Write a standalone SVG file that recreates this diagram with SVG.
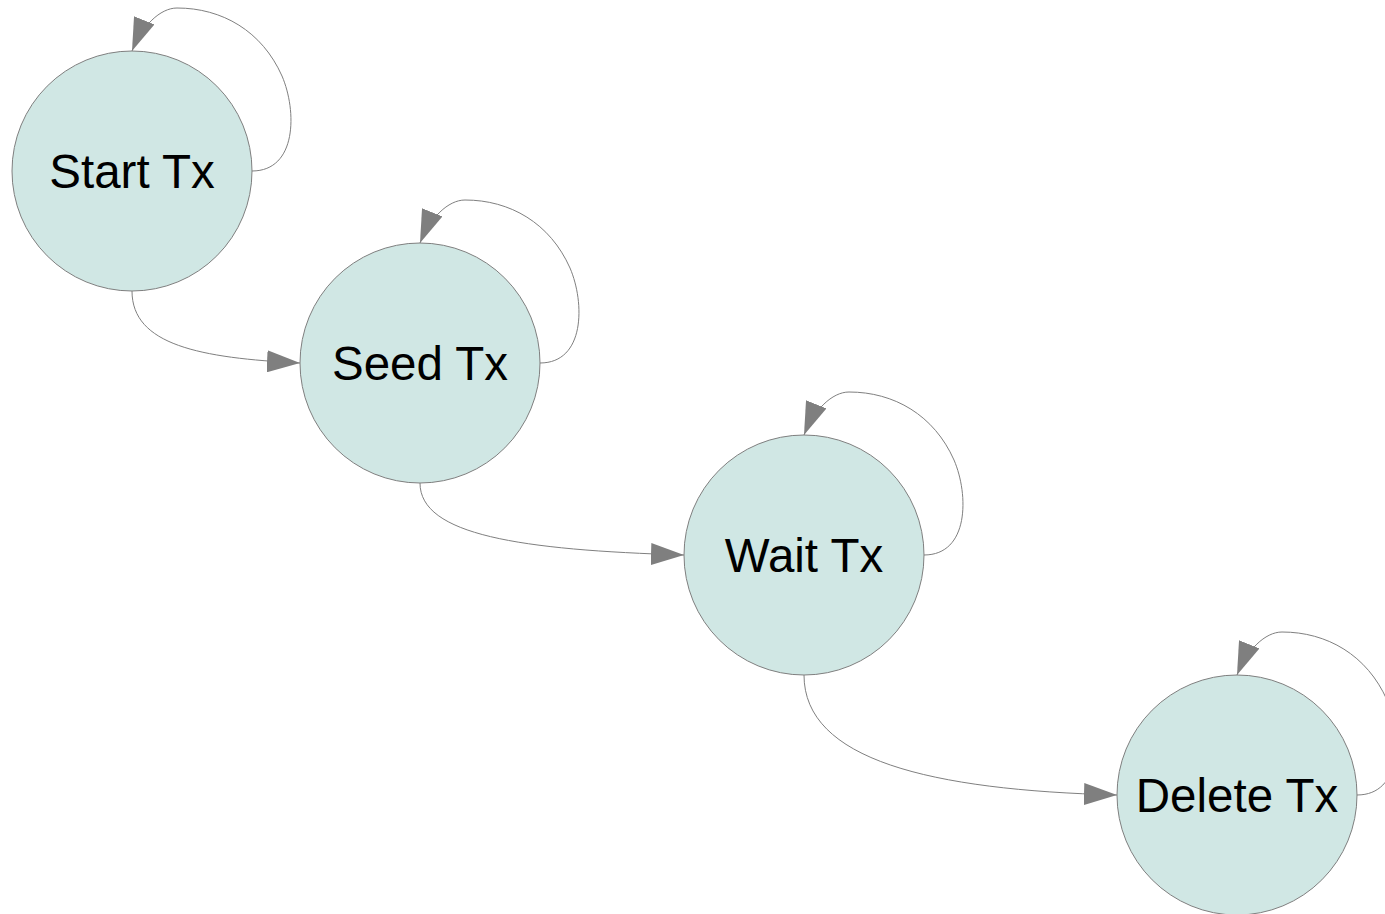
<svg xmlns="http://www.w3.org/2000/svg" width="1385" height="914" viewBox="0 0 1385 914">
  <style>
    .state { fill: #d0e7e4; stroke: #7f7f7f; stroke-width: 1; }
    .label { font-family: "Liberation Sans", Arial, sans-serif; font-size: 47.5px; fill: #000; text-anchor: middle; }
    .edge { fill: none; stroke: #7f7f7f; stroke-width: 1; marker-end: url(#arrow); }
  </style>
  <defs>
    <marker id="arrow" viewBox="0 0 33 22" refX="33" refY="11" markerWidth="33" markerHeight="22" markerUnits="userSpaceOnUse" orient="auto">
      <path d="M0,0 L33,11 L0,22 z" fill="#7f7f7f"/>
    </marker>
    <!-- self loop leaving the right side and entering the top of a state centred at 0,0 -->
    <path id="loop" class="edge" d="M120,0 C165,0 165,-60 150,-95 C130,-140 90,-163 45,-163 C28,-163 10,-145 0,-120"/>
  </defs>
  <rect width="1385" height="914" fill="#fff"/>

  <g id="connectors">
    <path class="edge" d="M132,291 C132,345 200,358 300,363"/>
    <path class="edge" d="M420,483 C420,535 520,550 684,555"/>
    <path class="edge" d="M804,675 C804,760 930,790 1117,795"/>
    <use href="#loop" x="132" y="171"/>
    <use href="#loop" x="420" y="363"/>
    <use href="#loop" x="804" y="555"/>
    <use href="#loop" x="1237" y="795"/>
  </g>

  <g id="start-tx">
    <circle class="state" cx="132" cy="171" r="120"/>
    <text class="label" x="132" y="188">Start Tx</text>
  </g>
  <g id="seed-tx">
    <circle class="state" cx="420" cy="363" r="120"/>
    <text class="label" x="420" y="380">Seed Tx</text>
  </g>
  <g id="wait-tx">
    <circle class="state" cx="804" cy="555" r="120"/>
    <text class="label" x="804" y="572">Wait Tx</text>
  </g>
  <g id="delete-tx">
    <circle class="state" cx="1237" cy="795" r="120"/>
    <text class="label" x="1237" y="812">Delete Tx</text>
  </g>
</svg>
